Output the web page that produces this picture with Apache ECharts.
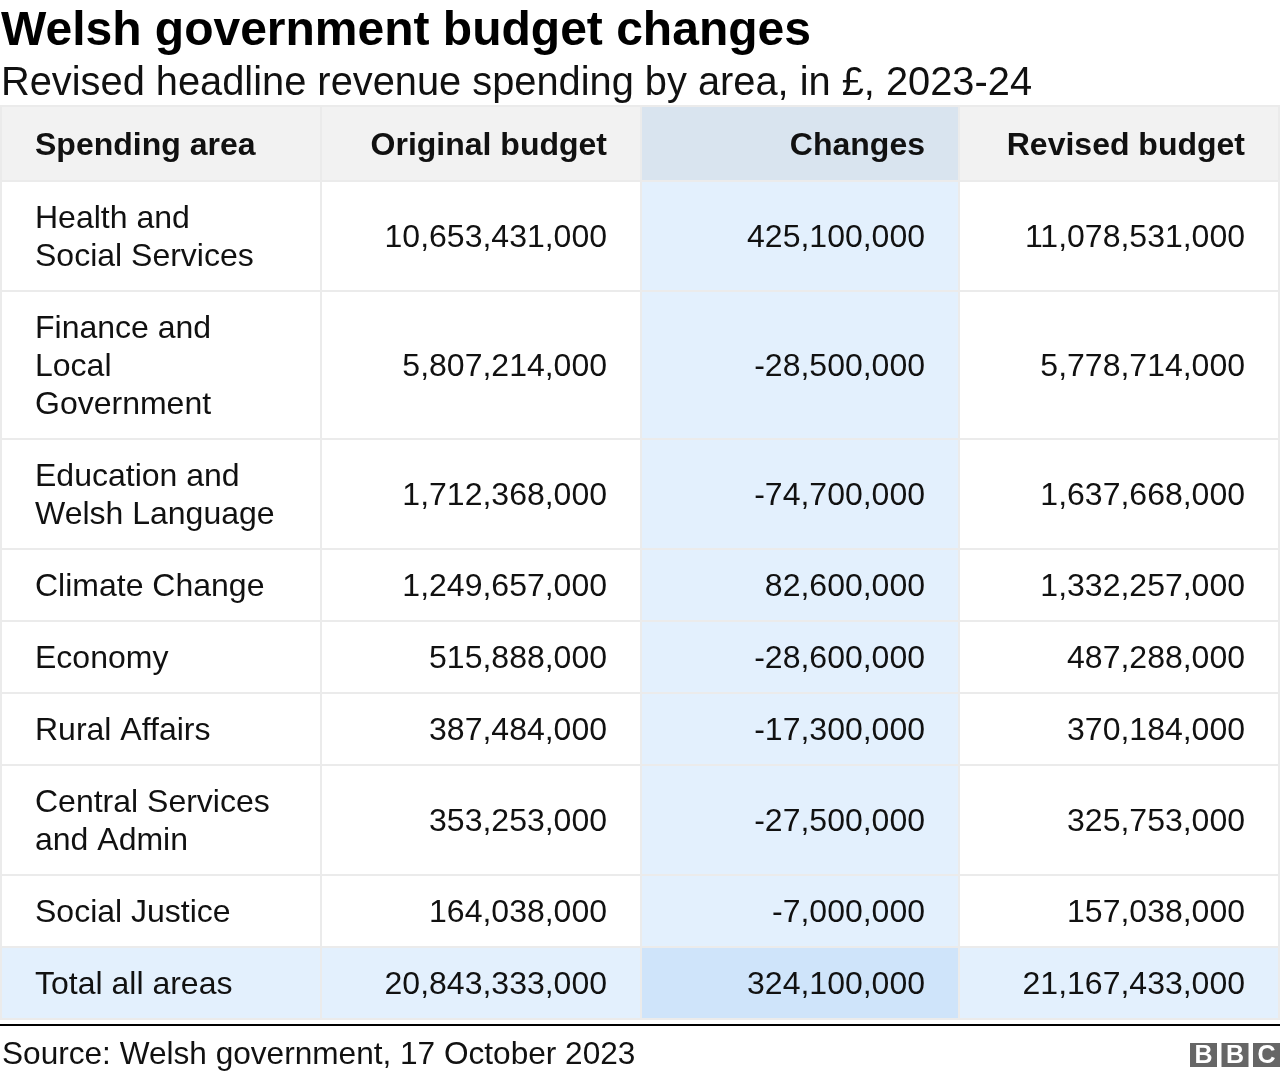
<!DOCTYPE html>
<html><head><meta charset="utf-8">
<script src="https://cdn.jsdelivr.net/npm/echarts@6/dist/echarts.min.js"></script>
<style>html,body{margin:0;padding:0;background:#fff}#c{width:1280px;height:1080px}</style>
</head><body><div id="c"></div><script>
const titleText = 'Welsh government budget changes';
const subtitleText = 'Revised headline revenue spending by area, in £, 2023-24';
const sourceText = 'Source: Welsh government, 17 October 2023';
const headers = ['Spending area', 'Original budget', 'Changes', 'Revised budget'];
const areas = ['Health and\nSocial Services', 'Finance and\nLocal\nGovernment', 'Education and\nWelsh Language',
  'Climate Change', 'Economy', 'Rural Affairs', 'Central Services\nand Admin', 'Social Justice', 'Total all areas'];
const originalBudget = [10653431000, 5807214000, 1712368000, 1249657000, 515888000, 387484000, 353253000, 164038000, 20843333000];
const changes = [425100000, -28500000, -74700000, 82600000, -28600000, -17300000, -27500000, -7000000, 324100000];
const revisedBudget = [11078531000, 5778714000, 1637668000, 1332257000, 487288000, 370184000, 325753000, 157038000, 21167433000];

const FONT = '"Liberation Sans", Arial, Helvetica, sans-serif';
const GAP = 2;
// column edges in px (layout)
const colEdges = [0, 320, 640, 958, 1278];
// row edges derived from line counts
const rowEdges = [0, 75];
areas.forEach(a => {
  const lines = a.split('\n').length;
  rowEdges.push(rowEdges[rowEdges.length - 1] + 34 + 38 * lines);
});
const tableH = rowEdges[rowEdges.length - 1] + GAP;
const fmt = v => v.toLocaleString('en-GB');

const columns = [areas, originalBudget.map(fmt), changes.map(fmt), revisedBudget.map(fmt)];
const cells = [];
for (let r = 0; r <= areas.length; r++) for (let c = 0; c < 4; c++) cells.push([c, r]);
const nRows = areas.length;

function fillFor(c, r) {
  if (r === 0) return c === 2 ? '#d9e4ef' : '#f2f2f2';
  if (r === nRows) return c === 2 ? '#cfe4fa' : '#e3f0fd';
  return c === 2 ? '#e3f0fd' : '#ffffff';
}

const chart = echarts.init(document.getElementById('c'), null, {renderer: 'canvas'});
chart.setOption({
  animation: false,
  backgroundColor: '#ffffff',
  grid: {left: 0, top: 105, width: 1280, height: tableH, show: true, backgroundColor: '#ebebeb', borderWidth: 0},
  xAxis: {type: 'value', min: 0, max: 1280, show: false},
  yAxis: {type: 'value', min: 0, max: tableH, inverse: true, show: false},
  series: [{
    type: 'custom',
    data: cells,
    renderItem(params, api) {
      const c = api.value(0), r = api.value(1);
      const p0 = api.coord([colEdges[c], rowEdges[r]]);
      const p1 = api.coord([colEdges[c + 1], rowEdges[r + 1]]);
      const x = p0[0] + GAP, y = p0[1] + GAP, w = p1[0] - x, h = p1[1] - y;
      const txt = r === 0 ? headers[c] : columns[c][r - 1];
      return {
        type: 'group',
        children: [
          {type: 'rect', shape: {x, y, width: w, height: h}, style: {fill: fillFor(c, r)}},
          {type: 'text', style: {
            text: txt,
            x: c === 0 ? x + 33 : x + w - 33,
            y: y + h / 2 + 2.5,
            align: c === 0 ? 'left' : 'right',
            verticalAlign: 'middle',
            font: (r === 0 ? 'bold ' : '') + '32px ' + FONT,
            lineHeight: 38,
            fill: '#111'
          }}
        ]
      };
    }
  }],
  graphic: [
    {type: 'text', left: 1, top: 8, style: {text: titleText, font: 'bold 48px ' + FONT, fill: '#000'}},
    {type: 'text', left: 1, top: 64, style: {text: subtitleText, font: '39.8px ' + FONT, fill: '#111'}},
    {type: 'rect', shape: {x: 0, y: 1024, width: 1280, height: 2}, style: {fill: '#000'}},
    {type: 'text', left: 2, top: 1039, style: {text: sourceText, font: '31.6px ' + FONT, fill: '#111'}},
    {type: 'group', children: ['B', 'B', 'C'].map((ch, i) => ({
      type: 'group', x: 1190 + i * 31.5, y: 1043, children: [
        {type: 'rect', shape: {x: 0, y: 0, width: 27, height: 24}, style: {fill: '#666666'}},
        {type: 'text', style: {text: ch, x: 13.5, y: 13, align: 'center', verticalAlign: 'middle', font: 'bold 25px ' + FONT, fill: '#ffffff'}}
      ]
    }))}
  ]
});
</script></body></html>
